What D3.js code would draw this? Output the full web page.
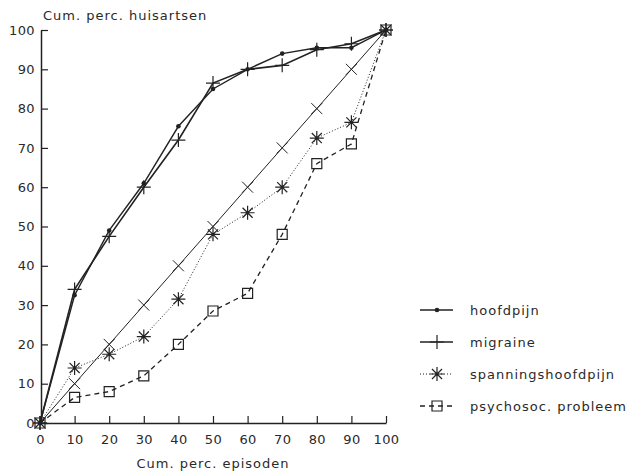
<!DOCTYPE html>
<html>
<head>
<meta charset="utf-8">
<script src="https://cdnjs.cloudflare.com/ajax/libs/d3/7.8.5/d3.min.js"></script>
<style>
  body { margin: 0; background: #fff; }
  text { font-family: "DejaVu Sans", sans-serif; fill: #2a2a2a; }
</style>
</head>
<body>
<div id="chart"></div>
<script>
// data
var percEpisoden = [0, 10, 20, 30, 40, 50, 60, 70, 80, 90, 100];
var hoofdpijn    = [0, 32.5, 49, 61, 75.5, 85, 90, 94, 95.5, 95.5, 100];
var migraine     = [0, 34, 47.5, 60, 72, 86.5, 90, 91, 95, 96.5, 100];
var spanning     = [0, 14, 17.5, 22, 31.5, 48, 53.5, 60, 72.5, 76.5, 100];
var psychosoc    = [0, 6.5, 8, 12, 20, 28.5, 33, 48, 66, 71, 100];
var gelijk       = [0, 10, 20, 30, 40, 50, 60, 70, 80, 90, 100];
var ticks        = [0, 10, 20, 30, 40, 50, 60, 70, 80, 90, 100];
var legendNames  = ["hoofdpijn", "migraine", "spanningshoofdpijn", "psychosoc. probleem"];

var width = 633, height = 476;
var ink = "#222";

var svg = d3.select("#chart").append("svg")
    .attr("width", width)
    .attr("height", height);

var x = d3.scaleLinear().domain([0, 100]).range([40, 386]);
var y = d3.scaleLinear().domain([0, 100]).range([423, 30]);

// marker shapes
function plusPath(r) {
  return "M" + (-r) + ",0H" + r + "M0," + (-r) + "V" + r;
}
function timesPath(r) {
  return "M" + (-r) + "," + (-r) + "L" + r + "," + r + "M" + (-r) + "," + r + "L" + r + "," + (-r);
}
function starPath(r) {
  var d = r * 0.72;
  return plusPath(r) + timesPath(d);
}
function squarePath(r) {
  return "M" + (-r) + "," + (-r) + "h" + 2 * r + "v" + 2 * r + "h" + (-2 * r) + "Z";
}

var series = [
  { name: legendNames[0], values: hoofdpijn, dash: null, width: 1.4, marker: "dot" },
  { name: legendNames[1], values: migraine, dash: null, width: 1.6, marker: "plus" },
  { name: "gelijk", values: gelijk, dash: null, width: 1, marker: "times" },
  { name: legendNames[2], values: spanning, dash: "1,2", width: 1, marker: "star" },
  { name: legendNames[3], values: psychosoc, dash: "5,4", width: 1.3, marker: "square" }
];

function drawMarker(g, kind) {
  if (kind == "dot") {
    g.append("circle").attr("r", 2.3).attr("fill", ink);
  } else if (kind == "plus") {
    g.append("path").attr("d", plusPath(7)).attr("stroke", ink).attr("stroke-width", 1.2).attr("fill", "none");
  } else if (kind == "times") {
    g.append("path").attr("d", timesPath(5.5)).attr("stroke", ink).attr("stroke-width", 1).attr("fill", "none");
  } else if (kind == "star") {
    g.append("path").attr("d", starPath(7)).attr("stroke", ink).attr("stroke-width", 1.2).attr("fill", "none");
  } else if (kind == "square") {
    g.append("path").attr("d", squarePath(5)).attr("stroke", ink).attr("stroke-width", 1.2).attr("fill", "none");
  }
}

// axes
var xAxis = d3.axisBottom(x).tickValues(ticks).tickSize(-7).tickSizeOuter(0).tickPadding(12);
var yAxis = d3.axisLeft(y).tickValues(ticks).tickSize(-7).tickSizeOuter(0).tickPadding(6);

var gx = svg.append("g").attr("transform", "translate(0," + 423 + ")").call(xAxis);
var gy = svg.append("g").attr("transform", "translate(" + 41 + ",0)").call(yAxis);

[gx, gy].forEach(function(g) {
  g.select(".domain").attr("stroke", ink).attr("stroke-width", 1.5);
  g.selectAll(".tick line").attr("stroke", ink).attr("stroke-width", 1.2);
  g.selectAll(".tick text")
    .style("font-family", "DejaVu Sans, sans-serif")
    .style("font-size", "13px")
    .style("letter-spacing", "0.4px")
    .attr("fill", "#2a2a2a");
});

// axis titles
svg.append("text")
    .attr("x", 43)
    .attr("y", 20)
    .style("font-size", "13px")
    .style("letter-spacing", "1px")
    .text("Cum. perc. huisartsen");

svg.append("text")
    .attr("x", 213)
    .attr("y", 468)
    .attr("text-anchor", "middle")
    .style("font-size", "13px")
    .style("letter-spacing", "1px")
    .text("Cum. perc. episoden");

// lines + markers
var line = d3.line()
    .x(function(d, i) { return x(percEpisoden[i]); })
    .y(function(d) { return y(d); });

series.forEach(function(s) {
  svg.append("path")
    .datum(s.values)
    .attr("d", line)
    .attr("fill", "none")
    .attr("stroke", ink)
    .attr("stroke-width", s.width)
    .attr("stroke-dasharray", s.dash);

  svg.selectAll(null)
    .data(s.values)
    .enter()
    .append("g")
    .attr("transform", function(d, i) { return "translate(" + x(percEpisoden[i]) + "," + y(d) + ")"; })
    .each(function() { drawMarker(d3.select(this), s.marker); });
});

// legend
var legendSeries = series.filter(function(s) { return s.name != "gelijk"; });
var legendY = d3.scalePoint().domain(legendNames).range([310, 406]);

var lg = svg.selectAll(".legend")
    .data(legendSeries)
    .enter()
    .append("g")
    .attr("class", "legend")
    .attr("transform", function(d) { return "translate(420," + legendY(d.name) + ")"; });

lg.append("line")
    .attr("x1", 0).attr("x2", 33)
    .attr("stroke", ink)
    .attr("stroke-width", function(d) { return d.width; })
    .attr("stroke-dasharray", function(d) { return d.dash; });

lg.append("g")
    .attr("transform", "translate(17,0)")
    .each(function(d) { drawMarker(d3.select(this), d.marker); });

lg.append("text")
    .attr("x", 50)
    .attr("y", 4.5)
    .style("font-size", "13px")
    .style("letter-spacing", "1px")
    .text(function(d) { return d.name; });
</script>
</body>
</html>
